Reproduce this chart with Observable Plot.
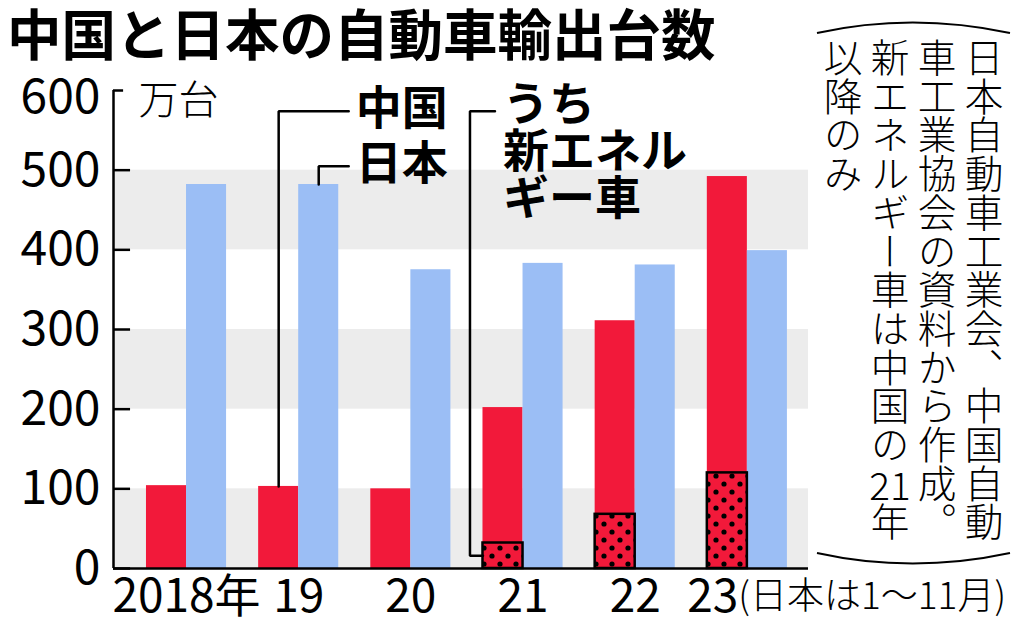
<!DOCTYPE html>
<html><head><meta charset="utf-8">
<script src="https://cdn.jsdelivr.net/npm/d3@7"></script>
<script src="https://cdn.jsdelivr.net/npm/@observablehq/plot@0.6"></script>
<style>
html,body{margin:0;padding:0;background:#fff;}
#wrap{position:relative;width:1024px;height:629px;overflow:hidden;font-family:"Noto Sans CJK JP",sans-serif;color:#000;}
#chart{position:absolute;left:0;top:0;}
#title{position:absolute;left:7px;top:5px;font-size:54.5px;font-weight:700;line-height:1;white-space:nowrap;}
#source{position:absolute;top:38px;left:819px;writing-mode:vertical-rl;font-size:38.7px;line-height:47px;font-weight:300;white-space:nowrap;}
#brackets{position:absolute;left:0;top:0;pointer-events:none;}
.tcy{text-combine-upright:all;}
</style></head>
<body>
<div id="wrap">
  <div id="chart"></div>
  <div id="title">中国と日本の自動車輸出台数</div>
  <div id="source">日本自動車工業会、中国自動<br>車工業協会の資料から作成。<br>新エネルギー車は中国の<span class="tcy">21</span>年<br>以降のみ</div>
  <svg id="brackets" width="1024" height="629">
    <path d="M817,33 Q912,12 1010,33" fill="none" stroke="#000" stroke-width="2"/>
    <path d="M817,553 Q912,574 1010,553" fill="none" stroke="#000" stroke-width="2"/>
  </svg>
</div>
<script>
// ---- data ----
const years = [2018, 2019, 2020, 2021, 2022, 2023];
const xTickLabels = ["2018年", "19", "20", "21", "22", "23"];
const xNote = "(日本は1～11月)";
const china = [104, 103, 100, 202, 311, 492];
const japan = [482, 482, 375, 383, 381, 399];
const chinaNEV = [null, null, null, 32, 68, 120];
const yTicks = [0, 100, 200, 300, 400, 500, 600];
const bandRanges = [[0, 100], [200, 300], [400, 500]];
const yUnit = "万台";
const labelChina = "中国";
const labelJapan = "日本";
const labelNEV = "うち\n新エネル\nギー車";

// ---- styles ----
const RED = "#f2193a";
const BLUE = "#9bbef5";
const GRAY = "#ececec";
const BW = 0.357;               // bar width in year units
const xDomain = [2017.349, 2023.545];

const rows = years.map((year, i) => ({year, label: xTickLabels[i], china: china[i], japan: japan[i], nev: chinaNEV[i]}));
const nevRows = rows.filter(d => d.nev != null);
const lastRow = rows[rows.length - 1];
const firstNev = nevRows[0];
const r2019 = rows[1];

// annotation anchors (data coordinates)
const annY1 = 574, annY2 = 505, annXEnd = r2019.year + 0.446;
const nevX = firstNev.year - BW - 0.116;

const chart = Plot.plot({
  width: 1024, height: 629,
  marginLeft: 113, marginRight: 216, marginTop: 90, marginBottom: 61,
  style: {fontFamily: "'Noto Sans CJK JP', sans-serif", background: "transparent", color: "#000", overflow: "visible"},
  x: {type: "linear", domain: xDomain, axis: null},
  y: {domain: [0, 600], axis: null},
  marks: [
    Plot.rectY(bandRanges, {y1: d => d[0], y2: d => d[1], fill: GRAY}),
    Plot.rectY(rows, {x1: d => d.year - BW, x2: d => d.year, y1: 0, y2: "china", fill: RED}),
    Plot.rectY(rows, {x1: d => d.year, x2: d => d.year + BW, y1: 0, y2: "japan", fill: BLUE}),
    Plot.rectY(nevRows, {x1: d => d.year - BW, x2: d => d.year, y1: 0, y2: "nev", fill: "url(#nevDots)", stroke: "#000", strokeWidth: 2.5}),
    // axes
    Plot.ruleY([0], {strokeWidth: 2.5}),
    Plot.ruleX([xDomain[0]], {y1: 0, y2: 600, strokeWidth: 2.5}),
    Plot.ruleY(yTicks.slice(0, -1), {x1: xDomain[0], x2: xDomain[0] + 0.152, strokeWidth: 2.5}),
    Plot.ruleY(yTicks.slice(-1), {x1: xDomain[0], x2: xDomain[0] + 0.09, strokeWidth: 2.5}),
    Plot.text(yTicks.slice(0, -1), {y: d => d, frameAnchor: "left", dx: -13, textAnchor: "end", lineAnchor: "middle", text: d => String(d), fontSize: 48}),
    Plot.text(yTicks.slice(-1), {y: d => d, frameAnchor: "left", dx: -13, dy: 7, textAnchor: "end", lineAnchor: "middle", text: d => String(d), fontSize: 48}),
    Plot.text([yUnit], {frameAnchor: "top-left", dx: 25, dy: 11, textAnchor: "start", lineAnchor: "middle", fontSize: 40, fontWeight: 300}),
    Plot.text(rows.slice(0, -1), {x: "year", text: "label", frameAnchor: "bottom", lineAnchor: "middle", dy: 29, fontSize: 46}),
    Plot.text([lastRow], {x: "year", text: "label", frameAnchor: "bottom", lineAnchor: "middle", dy: 29, dx: -9, textAnchor: "end", fontSize: 46}),
    Plot.text([lastRow], {x: "year", text: () => xNote, frameAnchor: "bottom", lineAnchor: "middle", dy: 29, dx: -9, textAnchor: "start", fontSize: 37, fontWeight: 300}),
    // annotations
    Plot.line([{x: r2019.year - BW / 2, y: r2019.china}, {x: r2019.year - BW / 2, y: annY1}, {x: annXEnd, y: annY1}], {x: "x", y: "y", strokeWidth: 2.5, strokeLinejoin: "miter"}),
    Plot.line([{x: r2019.year + BW / 2, y: r2019.japan}, {x: r2019.year + BW / 2, y: annY2}, {x: annXEnd, y: annY2}], {x: "x", y: "y", strokeWidth: 2.5, strokeLinejoin: "miter"}),
    Plot.line([{x: firstNev.year - BW, y: firstNev.nev / 2}, {x: nevX, y: firstNev.nev / 2}, {x: nevX, y: annY1}, {x: nevX + 0.223, y: annY1}], {x: "x", y: "y", strokeWidth: 2.5, strokeLinejoin: "miter"}),
    Plot.text([labelChina], {x: annXEnd + 0.062, y: annY1 + 2, textAnchor: "start", fontSize: 46, fontWeight: 700}),
    Plot.text([labelJapan], {x: annXEnd + 0.062, y: annY2 + 2, textAnchor: "start", fontSize: 46, fontWeight: 700}),
    Plot.text([labelNEV], {x: nevX + 0.295, y: 523, textAnchor: "start", fontSize: 46, fontWeight: 700, lineHeight: 1.02})
  ]
});

// dotted pattern for NEV bars
const svg = d3.select(chart);
const defs = svg.insert("defs", ":first-child");
const pat = defs.append("pattern").attr("id", "nevDots").attr("patternUnits", "userSpaceOnUse").attr("width", 16).attr("height", 16);
pat.append("rect").attr("width", 16).attr("height", 16).attr("fill", RED);
pat.append("circle").attr("cx", 4).attr("cy", 4).attr("r", 2.6).attr("fill", "#000");
pat.append("circle").attr("cx", 12).attr("cy", 12).attr("r", 2.6).attr("fill", "#000");

document.getElementById("chart").append(chart);
</script>
</body></html>
